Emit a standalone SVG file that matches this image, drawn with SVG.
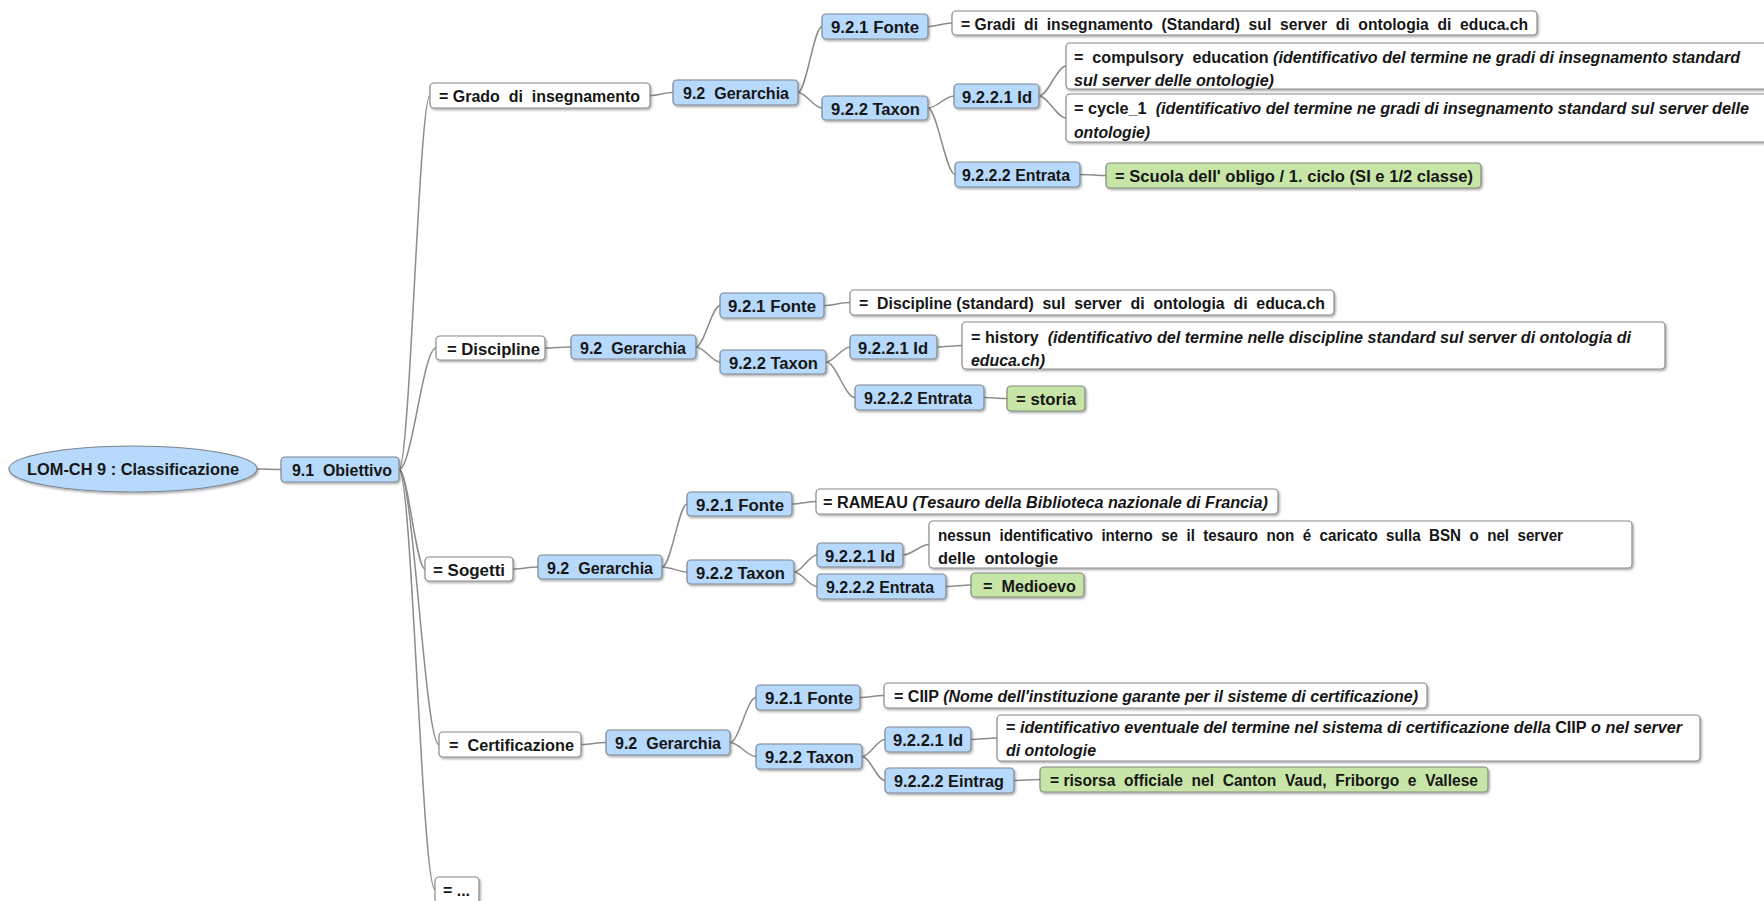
<svg xmlns="http://www.w3.org/2000/svg" width="1764" height="901" viewBox="0 0 1764 901">
<defs>
<filter id="sh" x="-10%" y="-20%" width="130%" height="160%">
<feDropShadow dx="1.2" dy="1.5" stdDeviation="0.9" flood-color="#000" flood-opacity="0.35"/>
</filter>
<style>
.b{fill:#b6d9fc;stroke:#7d8791;stroke-width:1.2;filter:url(#sh)}
.g{fill:#c8e5a8;stroke:#7f8a78;stroke-width:1.2;filter:url(#sh)}
.w{fill:#ffffff;stroke:#8a8a8a;stroke-width:1.2;filter:url(#sh)}
text{font-family:"Liberation Sans",Arial,sans-serif;font-weight:bold;font-size:16px;fill:#161616;white-space:pre}
.i{font-style:italic}
#connectors path{fill:none;stroke:#8c8c8c;stroke-width:1.5}
</style>
</defs>
<rect width="1764" height="901" fill="#ffffff"/>
<g id="connectors">
<path d="M257 469 C266 469 272 469.5 281 469.5"/>
<path d="M399 469.5 C410 469.5 419 95.5 430 95.5"/>
<path d="M399 469.5 C412 469.5 423 348 436 348"/>
<path d="M399 469.5 C408 469.5 416 569 425 569"/>
<path d="M399 469.5 C413 469.5 425 744.5 439 744.5"/>
<path d="M399 469.5 C412 469.5 422 889.5 435 889.5"/>
<path d="M650 95.5 C658 95.5 665 92.5 673 92.5"/>
<path d="M798 92.5 C806 92.5 814 26.5 822 26.5"/>
<path d="M798 92.5 C806 92.5 814 108 822 108"/>
<path d="M928 26.5 C936 26.5 944 23 952 23"/>
<path d="M928 108 C937 108 945 96 954 96"/>
<path d="M928 108 C937 108 946 174.5 955 174.5"/>
<path d="M1039 96 C1048 96 1057 66 1066 66"/>
<path d="M1039 96 C1048 96 1057 118 1066 118"/>
<path d="M1080 174.5 C1089 174.5 1097 175.5 1106 175.5"/>
<path d="M545 348 C554 348 562 347 571 347"/>
<path d="M696 347 C704 347 712 305.5 720 305.5"/>
<path d="M696 347 C704 347 712 362 720 362"/>
<path d="M824 305.5 C833 305.5 841 302.5 850 302.5"/>
<path d="M826 362 C834 362 842 347 850 347"/>
<path d="M826 362 C836 362 845 397.5 855 397.5"/>
<path d="M937 347 C946 347 953 345.5 962 345.5"/>
<path d="M984 397.5 C992 397.5 999 398.5 1007 398.5"/>
<path d="M513 569 C522 569 529 567 538 567"/>
<path d="M662 567 C671 567 679 504 687 504"/>
<path d="M662 567 C671 567 679 572 687 572"/>
<path d="M792 504 C800 504 808 501.5 816 501.5"/>
<path d="M794 572 C802 572 809 555 817 555"/>
<path d="M794 572 C802 572 809 586.5 817 586.5"/>
<path d="M903 555 C912 555 920 544.5 929 544.5"/>
<path d="M946 586.5 C955 586.5 962 585 971 585"/>
<path d="M581 744.5 C590 744.5 597 742.5 606 742.5"/>
<path d="M730 742.5 C739 742.5 747 697.5 756 697.5"/>
<path d="M730 742.5 C739 742.5 747 756.5 756 756.5"/>
<path d="M860 697.5 C868 697.5 876 695.5 884 695.5"/>
<path d="M862 756.5 C870 756.5 877 739.5 885 739.5"/>
<path d="M862 756.5 C870 756.5 877 780.5 885 780.5"/>
<path d="M971 739.5 C980 739.5 988 738 997 738"/>
<path d="M1014 780.5 C1023 780.5 1031 779.5 1040 779.5"/>
</g>

<g id="root">
<ellipse class="b" cx="133" cy="469" rx="124" ry="23"/>
<text x="27" y="475" textLength="212" lengthAdjust="spacingAndGlyphs">LOM-CH 9 : Classificazione</text>
</g>
<g id="n91">
<rect class="b" x="281" y="457" width="118" height="25" rx="4"/>
<text x="292" y="476" textLength="100" lengthAdjust="spacingAndGlyphs">9.1  Obiettivo</text>
</g>

<!-- Grado -->
<g id="gA">
<rect class="w" x="430" y="83" width="220" height="25" rx="4"/>
<text x="439" y="102" textLength="201" lengthAdjust="spacingAndGlyphs">= Grado  di  insegnamento</text>
</g>
<g id="gB">
<rect class="b" x="673" y="80" width="125" height="25" rx="4"/>
<text x="683" y="99" textLength="106" lengthAdjust="spacingAndGlyphs">9.2  Gerarchia</text>
</g>
<g id="gC">
<rect class="b" x="822" y="14" width="106" height="25" rx="4"/>
<text x="831" y="33" textLength="88" lengthAdjust="spacingAndGlyphs">9.2.1 Fonte</text>
</g>
<g id="gD">
<rect class="w" x="952" y="11" width="585" height="24" rx="4"/>
<text x="961" y="29.5" textLength="567" lengthAdjust="spacingAndGlyphs">= Gradi  di  insegnamento  (Standard)  sul  server  di  ontologia  di  educa.ch</text>
</g>
<g id="gE">
<rect class="b" x="822" y="96" width="106" height="24" rx="4"/>
<text x="831" y="114.5" textLength="89" lengthAdjust="spacingAndGlyphs">9.2.2 Taxon</text>
</g>
<g id="gF">
<rect class="b" x="954" y="84" width="85" height="24" rx="4"/>
<text x="962" y="102.5" textLength="70" lengthAdjust="spacingAndGlyphs">9.2.2.1 Id</text>
</g>
<g id="gG">
<rect class="w" x="1066" y="43" width="720" height="46" rx="4"/>
<text x="1074" y="63" textLength="666" lengthAdjust="spacingAndGlyphs">=  compulsory  education <tspan class="i">(identificativo del termine ne gradi di insegnamento standard</tspan></text>
<text class="i" x="1074" y="86" textLength="200" lengthAdjust="spacingAndGlyphs">sul server delle ontologie)</text>
</g>
<g id="gH">
<rect class="w" x="1066" y="94" width="720" height="48" rx="4"/>
<text x="1074" y="114" textLength="675" lengthAdjust="spacingAndGlyphs">= cycle_1  <tspan class="i">(identificativo del termine ne gradi di insegnamento standard sul server delle</tspan></text>
<text class="i" x="1074" y="137.5" textLength="76" lengthAdjust="spacingAndGlyphs">ontologie)</text>
</g>
<g id="gI">
<rect class="b" x="955" y="162" width="125" height="25" rx="4"/>
<text x="962" y="181" textLength="108" lengthAdjust="spacingAndGlyphs">9.2.2.2 Entrata</text>
</g>
<g id="gJ">
<rect class="g" x="1106" y="163" width="375" height="25" rx="4"/>
<text x="1115" y="182" textLength="358" lengthAdjust="spacingAndGlyphs">= Scuola dell' obligo / 1. ciclo (SI e 1/2 classe)</text>
</g>

<!-- Discipline -->
<g id="dA">
<rect class="w" x="436" y="336" width="109" height="24" rx="4"/>
<text x="447" y="354.5" textLength="93" lengthAdjust="spacingAndGlyphs">= Discipline</text>
</g>
<g id="dB">
<rect class="b" x="571" y="335" width="125" height="24" rx="4"/>
<text x="580" y="353.5" textLength="106" lengthAdjust="spacingAndGlyphs">9.2  Gerarchia</text>
</g>
<g id="dC">
<rect class="b" x="720" y="293" width="104" height="25" rx="4"/>
<text x="728" y="312" textLength="88" lengthAdjust="spacingAndGlyphs">9.2.1 Fonte</text>
</g>
<g id="dD">
<rect class="w" x="850" y="290" width="484" height="25" rx="4"/>
<text x="859" y="309" textLength="466" lengthAdjust="spacingAndGlyphs">=  Discipline (standard)  sul  server  di  ontologia  di  educa.ch</text>
</g>
<g id="dE">
<rect class="b" x="720" y="350" width="106" height="24" rx="4"/>
<text x="729" y="368.5" textLength="89" lengthAdjust="spacingAndGlyphs">9.2.2 Taxon</text>
</g>
<g id="dF">
<rect class="b" x="850" y="335" width="87" height="24" rx="4"/>
<text x="858" y="353.5" textLength="70" lengthAdjust="spacingAndGlyphs">9.2.2.1 Id</text>
</g>
<g id="dG">
<rect class="w" x="962" y="322" width="703" height="47" rx="4"/>
<text x="971" y="343" textLength="660" lengthAdjust="spacingAndGlyphs">= history  <tspan class="i">(identificativo del termine nelle discipline standard sul server di ontologia di</tspan></text>
<text class="i" x="971" y="366" textLength="74" lengthAdjust="spacingAndGlyphs">educa.ch)</text>
</g>
<g id="dH">
<rect class="b" x="855" y="385" width="129" height="25" rx="4"/>
<text x="864" y="404" textLength="108" lengthAdjust="spacingAndGlyphs">9.2.2.2 Entrata</text>
</g>
<g id="dI">
<rect class="g" x="1007" y="386" width="78" height="25" rx="4"/>
<text x="1016" y="405" textLength="60" lengthAdjust="spacingAndGlyphs">= storia</text>
</g>

<!-- Sogetti -->
<g id="sA">
<rect class="w" x="425" y="557" width="88" height="24" rx="4"/>
<text x="433" y="575.5" textLength="72" lengthAdjust="spacingAndGlyphs">= Sogetti</text>
</g>
<g id="sB">
<rect class="b" x="538" y="555" width="124" height="24" rx="4"/>
<text x="547" y="573.5" textLength="106" lengthAdjust="spacingAndGlyphs">9.2  Gerarchia</text>
</g>
<g id="sC">
<rect class="b" x="687" y="492" width="105" height="24" rx="4"/>
<text x="696" y="510.5" textLength="88" lengthAdjust="spacingAndGlyphs">9.2.1 Fonte</text>
</g>
<g id="sD">
<rect class="w" x="816" y="489" width="462" height="25" rx="4"/>
<text x="823" y="508" textLength="445" lengthAdjust="spacingAndGlyphs">= RAMEAU <tspan class="i">(Tesauro della Biblioteca nazionale di Francia)</tspan></text>
</g>
<g id="sE">
<rect class="b" x="687" y="560" width="107" height="24" rx="4"/>
<text x="696" y="578.5" textLength="89" lengthAdjust="spacingAndGlyphs">9.2.2 Taxon</text>
</g>
<g id="sF">
<rect class="b" x="817" y="543" width="86" height="24" rx="4"/>
<text x="825" y="561.5" textLength="70" lengthAdjust="spacingAndGlyphs">9.2.2.1 Id</text>
</g>
<g id="sG">
<rect class="w" x="929" y="521" width="703" height="47" rx="4"/>
<text x="938" y="541" textLength="625" lengthAdjust="spacingAndGlyphs">nessun  identificativo  interno  se  il  tesauro  non  é  caricato  sulla  BSN  o  nel  server</text>
<text x="938" y="563.5" textLength="120" lengthAdjust="spacingAndGlyphs">delle  ontologie</text>
</g>
<g id="sH">
<rect class="b" x="817" y="574" width="129" height="25" rx="4"/>
<text x="826" y="593" textLength="108" lengthAdjust="spacingAndGlyphs">9.2.2.2 Entrata</text>
</g>
<g id="sI">
<rect class="g" x="971" y="573" width="113" height="24" rx="4"/>
<text x="983" y="591.5" textLength="93" lengthAdjust="spacingAndGlyphs">=  Medioevo</text>
</g>

<!-- Certificazione -->
<g id="cA">
<rect class="w" x="439" y="732" width="142" height="25" rx="4"/>
<text x="449" y="751" textLength="125" lengthAdjust="spacingAndGlyphs">=  Certificazione</text>
</g>
<g id="cB">
<rect class="b" x="606" y="730" width="124" height="25" rx="4"/>
<text x="615" y="749" textLength="106" lengthAdjust="spacingAndGlyphs">9.2  Gerarchia</text>
</g>
<g id="cC">
<rect class="b" x="756" y="685" width="104" height="25" rx="4"/>
<text x="765" y="704" textLength="88" lengthAdjust="spacingAndGlyphs">9.2.1 Fonte</text>
</g>
<g id="cD">
<rect class="w" x="884" y="683" width="543" height="25" rx="4"/>
<text x="894" y="702" textLength="524" lengthAdjust="spacingAndGlyphs">= CIIP <tspan class="i">(Nome dell'instituzione garante per il sisteme di certificazione)</tspan></text>
</g>
<g id="cE">
<rect class="b" x="756" y="744" width="106" height="25" rx="4"/>
<text x="765" y="763" textLength="89" lengthAdjust="spacingAndGlyphs">9.2.2 Taxon</text>
</g>
<g id="cF">
<rect class="b" x="885" y="727" width="86" height="25" rx="4"/>
<text x="893" y="746" textLength="70" lengthAdjust="spacingAndGlyphs">9.2.2.1 Id</text>
</g>
<g id="cG">
<rect class="w" x="997" y="715" width="703" height="46" rx="4"/>
<text x="1006" y="733" textLength="676" lengthAdjust="spacingAndGlyphs">= <tspan class="i">identificativo eventuale del termine nel sistema di certificazione della </tspan>CIIP<tspan class="i"> o nel server</tspan></text>
<text class="i" x="1006" y="756" textLength="90" lengthAdjust="spacingAndGlyphs">di ontologie</text>
</g>
<g id="cH">
<rect class="b" x="885" y="768" width="129" height="25" rx="4"/>
<text x="894" y="787" textLength="110" lengthAdjust="spacingAndGlyphs">9.2.2.2 Eintrag</text>
</g>
<g id="cI">
<rect class="g" x="1040" y="767" width="448" height="25" rx="4"/>
<text x="1050" y="786" textLength="428" lengthAdjust="spacingAndGlyphs">= risorsa  officiale  nel  Canton  Vaud,  Friborgo  e  Vallese</text>
</g>

<g id="eA">
<rect class="w" x="435" y="877" width="44" height="26" rx="4"/>
<text x="443" y="896" textLength="27" lengthAdjust="spacingAndGlyphs">= ...</text>
</g>
</svg>
